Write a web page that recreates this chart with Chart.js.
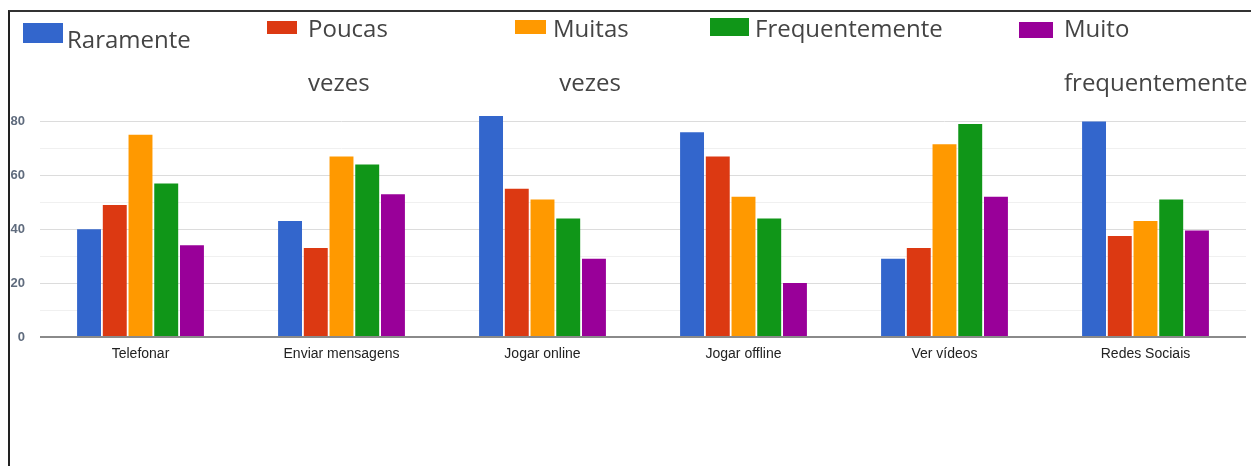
<!DOCTYPE html>
<html lang="pt">
<head>
  <meta charset="UTF-8">
  <title>Frequência de uso</title>
  <script src="https://cdn.jsdelivr.net/npm/chart.js"></script>
  <style>
    html, body { margin: 0; padding: 0; background: #fff; }
    #wrap { position: relative; width: 1251px; height: 466px; overflow: hidden; }
    #chartBox { position: absolute; left: 0; top: 0; width: 1251px; height: 466px; }
    #frame { position: absolute; left: 8px; top: 10px; right: -4px; bottom: -4px;
             border-left: 2px solid #222; border-top: 2px solid #333; pointer-events: none; }
    .lg-box { position: absolute; }
    .lg-text { position: absolute; font-family: "Open Sans", sans-serif; font-size: 24px;
               line-height: 54px; color: #444; white-space: pre; }
  </style>
</head>
<body>
  <div id="wrap">
    <div id="chartBox"><canvas id="barChart"></canvas></div>
    <div id="legend"></div>
    <div id="frame"></div>
  </div>
  <script>
    // data
    const categories = ['Telefonar', 'Enviar mensagens', 'Jogar online', 'Jogar offline', 'Ver vídeos', 'Redes Sociais'];
    const seriesNames = ['Raramente', 'Poucas vezes', 'Muitas vezes', 'Frequentemente', 'Muito frequentemente'];
    const raramente = [40, 43, 82, 76, 29, 80];
    const poucasVezes = [49, 33, 55, 67, 33, 37.5];
    const muitasVezes = [75, 67, 51, 52, 71.5, 43];
    const frequentemente = [57, 64, 44, 44, 79, 51];
    const muitoFrequentemente = [34, 53, 29, 20, 52, 39.5];
    const yTicks = [0, 20, 40, 60, 80];

    const colors = ['#3366cc', '#dc3912', '#ff9900', '#109618', '#990099'];
    const seriesValues = [raramente, poucasVezes, muitasVezes, frequentemente, muitoFrequentemente];

    // legend layout (odd wrapped layout of the original)
    const legendLayout = [
      { box: [23, 23, 40, 20], text: [67, 12], label: 'Raramente' },
      { box: [267, 21, 30, 13], text: [308, 1], label: 'Poucas\nvezes' },
      { box: [515, 20, 31, 14], text: [553, 1], label: 'Muitas\n vezes' },
      { box: [710, 18, 39, 18], text: [755, 1], label: 'Frequentemente' },
      { box: [1019, 22, 34, 16], text: [1064, 1], label: 'Muito\nfrequentemente' }
    ];

    const legendEl = document.getElementById('legend');
    legendLayout.forEach(function(item, i) {
      const b = document.createElement('div');
      b.className = 'lg-box';
      b.style.left = item.box[0] + 'px';
      b.style.top = item.box[1] + 'px';
      b.style.width = item.box[2] + 'px';
      b.style.height = item.box[3] + 'px';
      b.style.background = colors[i];
      legendEl.appendChild(b);
      const t = document.createElement('div');
      t.className = 'lg-text';
      t.style.left = item.text[0] + 'px';
      t.style.top = item.text[1] + 'px';
      t.textContent = item.label;
      legendEl.appendChild(t);
    });

    const minorTicks = [0, 10, 20, 30, 40, 50, 60, 70, 80];

    const ctx = document.getElementById('barChart').getContext('2d');
    new Chart(ctx, {
      type: 'bar',
      data: {
        labels: categories,
        datasets: seriesNames.map(function(name, i) {
          return {
            label: name,
            data: seriesValues[i],
            backgroundColor: colors[i],
            borderWidth: 0,
            barPercentage: 0.93,
            categoryPercentage: 0.64
          };
        })
      },
      options: {
        responsive: true,
        maintainAspectRatio: false,
        animation: false,
        layout: { padding: { top: 116, right: 5, left: 0, bottom: 0 } },
        plugins: {
          legend: { display: false },
          tooltip: { enabled: false }
        },
        scales: {
          x: {
            grid: { display: false, drawTicks: false },
            border: { display: false },
            ticks: {
              color: '#222',
              padding: 9,
              font: { family: 'Liberation Sans', size: 14 }
            },
            afterFit: function(scale) { scale.height = 129; }
          },
          y: {
            min: 0,
            max: 82,
            afterBuildTicks: function(scale) {
              scale.ticks = minorTicks.map(function(v) { return { value: v }; });
            },
            afterFit: function(scale) { scale.width = 40; },
            border: { display: false },
            grid: {
              drawTicks: false,
              lineWidth: function(c) { return c.tick && c.tick.value === 0 ? 2 : 1; },
              color: function(c) {
                if (!c.tick) return '#e0e0e0';
                if (c.tick.value === 0) return '#8a8a8a';
                return yTicks.indexOf(c.tick.value) >= 0 ? '#dcdcdc' : '#f0f0f0';
              }
            },
            ticks: {
              padding: 15,
              color: '#5f6b7d',
              font: { family: 'Liberation Sans', size: 13, weight: 'bold' },
              callback: function(v) { return yTicks.indexOf(v) >= 0 ? v : ''; }
            }
          }
        }
      }
    });
  </script>
</body>
</html>
